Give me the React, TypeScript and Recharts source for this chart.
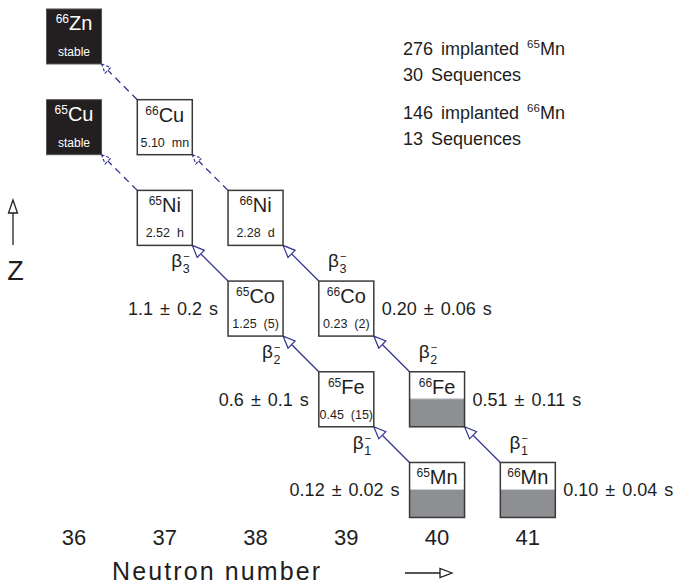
import React from "react";
import { ScatterChart, Scatter, XAxis, YAxis, ReferenceLine } from "recharts";

const FONT = "'Liberation Sans', Arial, sans-serif";
const INK = "#1e1e1e";
const ARROW = "#34358f";
const EDGE = "#3a3a3a";
const GREY = "#8e8f93";

const W = 673;
const H = 585;
const X_DOMAIN = [35.5, 41.5];
const Y_DOMAIN = [24.4, 30.4];
const MARGIN = { top: 0.2, right: 99.8, bottom: 0, left: 28.65 };
const X_AXIS_H = 40.6;
const BOX = 55;
// half box in data units (plot is ~90.7 px per nucleon)
const HALF = BOX / 2 / 90.7;

const neutronTicks = [36, 37, 38, 39, 40, 41];

const stableNuclei = [
  { a: 66, el: "Zn", n: 36, z: 30 },
  { a: 65, el: "Cu", n: 36, z: 29 },
];

const knownNuclei = [
  { a: 66, el: "Cu", n: 37, z: 29, t: "5.10  mn" },
  { a: 65, el: "Ni", n: 37, z: 28, t: "2.52  h" },
  { a: 66, el: "Ni", n: 38, z: 28, t: "2.28  d" },
  { a: 65, el: "Co", n: 38, z: 27, t: "1.25  (5)" },
  { a: 66, el: "Co", n: 39, z: 27, t: "0.23  (2)" },
  { a: 65, el: "Fe", n: 39, z: 26, t: "0.45  (15)" },
];

const newNuclei = [
  { a: 66, el: "Fe", n: 40, z: 26 },
  { a: 65, el: "Mn", n: 40, z: 25 },
  { a: 66, el: "Mn", n: 41, z: 25 },
];

const measuredHalfLives = [
  { a: 65, n: 38, z: 27, t: "1.1 ± 0.2 s" },
  { a: 65, n: 39, z: 26, t: "0.6 ± 0.1 s" },
  { a: 65, n: 40, z: 25, t: "0.12 ± 0.02 s" },
  { a: 66, n: 39, z: 27, t: "0.20 ± 0.06 s" },
  { a: 66, n: 40, z: 26, t: "0.51 ± 0.11 s" },
  { a: 66, n: 41, z: 25, t: "0.10 ± 0.04 s" },
];

// parent (n, z) -> daughter (n - 1, z + 1); step 0 = known decay (dashed)
const decays = [
  { a: 65, n: 40, z: 25, step: 1 },
  { a: 65, n: 39, z: 26, step: 2 },
  { a: 65, n: 38, z: 27, step: 3 },
  { a: 65, n: 37, z: 28, step: 0 },
  { a: 66, n: 41, z: 25, step: 1 },
  { a: 66, n: 40, z: 26, step: 2 },
  { a: 66, n: 39, z: 27, step: 3 },
  { a: 66, n: 38, z: 28, step: 0 },
  { a: 66, n: 37, z: 29, step: 0 },
];

const implantStats = [
  { count: 276, a: 65, el: "Mn", seq: 30 },
  { count: 146, a: 66, el: "Mn", seq: 13 },
];

const txt = { fontFamily: FONT, fill: INK, whiteSpace: "pre" } as React.CSSProperties;

function NuclideLabel({ cx, cy, a, el, color }: any) {
  return (
    <text x={cx} y={cy - 5.5} textAnchor="middle" style={{ ...txt, fill: color }}>
      <tspan fontSize={12} baselineShift="7">{a}</tspan>
      <tspan fontSize={20}>{el}</tspan>
    </text>
  );
}

function StableBox(props: any) {
  const { cx, cy, payload } = props;
  return (
    <g>
      <rect x={cx - BOX / 2} y={cy - BOX / 2} width={BOX} height={BOX} fill="#231f20" stroke="#555" strokeWidth={1} />
      <NuclideLabel cx={cx} cy={cy - 1} a={payload.a} el={payload.el} color="#fff" />
      <text x={cx} y={cy + 19.5} textAnchor="middle" fontSize={12} style={{ ...txt, fill: "#fff" }}>
        stable
      </text>
    </g>
  );
}

function KnownBox(props: any) {
  const { cx, cy, payload } = props;
  return (
    <g>
      <rect x={cx - BOX / 2} y={cy - BOX / 2} width={BOX} height={BOX} fill="#fff" stroke={EDGE} strokeWidth={1.5} />
      <NuclideLabel cx={cx} cy={cy} a={payload.a} el={payload.el} color={INK} />
      <text x={cx} y={cy + 19.5} textAnchor="middle" fontSize={12.5} style={txt}>
        {payload.t}
      </text>
    </g>
  );
}

function NewBox(props: any) {
  const { cx, cy, payload } = props;
  const top = cy - BOX / 2;
  return (
    <g>
      <rect x={cx - BOX / 2} y={top} width={BOX} height={BOX} fill="#fff" />
      <rect x={cx - BOX / 2} y={top + 27} width={BOX} height={BOX - 27} fill={GREY} />
      <line x1={cx - BOX / 2} x2={cx + BOX / 2} y1={top + 27} y2={top + 27} stroke="#cfd0d4" strokeWidth={1} />
      <rect x={cx - BOX / 2} y={top} width={BOX} height={BOX} fill="none" stroke={EDGE} strokeWidth={1.5} />
      <NuclideLabel cx={cx} cy={cy} a={payload.a} el={payload.el} color={INK} />
    </g>
  );
}

function HalfLifeLabel(props: any) {
  const { cx, cy, payload } = props;
  const left = payload.a === 65;
  return (
    <text
      x={left ? cx - BOX / 2 - 10 : cx + BOX / 2 + 8}
      y={cy + 6.5}
      textAnchor={left ? "end" : "start"}
      fontSize={18}
      wordSpacing={2}
      style={txt}
    >
      {payload.t}
    </text>
  );
}

function DecayArrow({ x1, y1, x2, y2, decay }: any) {
  const dx = x2 - x1;
  const dy = y2 - y1;
  const len = Math.hypot(dx, dy) || 1;
  const ux = dx / len;
  const uy = dy / len;
  const dashed = decay.step === 0;
  const hl = dashed ? 9 : 12;
  const hw = dashed ? 4 : 5;
  const bx = x2 - ux * hl;
  const by = y2 - uy * hl;
  const head = `${x2},${y2} ${bx - uy * hw},${by + ux * hw} ${bx + uy * hw},${by - ux * hw}`;
  const mx = (x1 + x2) / 2;
  const my = (y1 + y2) / 2;
  const sx = decay.a === 65 ? mx - 39 : mx + 27;
  return (
    <g>
      <line
        x1={x1}
        y1={y1}
        x2={bx}
        y2={by}
        stroke={ARROW}
        strokeWidth={1.3}
        strokeDasharray={dashed ? "7 5" : undefined}
      />
      <polygon
        points={head}
        fill={dashed ? "none" : "#fff"}
        stroke={ARROW}
        strokeWidth={1.2}
        strokeDasharray={dashed ? "3 2" : undefined}
      />
      {!dashed && (
        <text style={txt}>
          <tspan x={sx} y={my + 4} fontSize={19}>β</tspan>
          <tspan x={sx + 11.5} y={my + 10} fontSize={12.5}>{decay.step}</tspan>
          <tspan x={sx + 12} y={my - 3} fontSize={11}>−</tspan>
        </text>
      )}
    </g>
  );
}

function NeutronTick({ x, y, payload }: any) {
  return (
    <text x={x} y={y + 1} textAnchor="middle" fontSize={22} style={txt}>
      {payload.value}
    </text>
  );
}

export default function App() {
  return (
    <div style={{ position: "absolute", left: 0, top: 0, width: W, height: H, background: "#fff" }}>
      <ScatterChart width={W} height={H} margin={MARGIN}>
        <XAxis
          type="number"
          dataKey="n"
          domain={X_DOMAIN}
          ticks={neutronTicks}
          axisLine={false}
          tickLine={false}
          tickSize={0}
          tickMargin={0}
          height={X_AXIS_H}
          tick={<NeutronTick />}
        />
        <YAxis type="number" dataKey="z" domain={Y_DOMAIN} hide />
        {decays.map((d, i) => (
          <ReferenceLine
            key={i}
            segment={[
              { x: d.n - HALF, y: d.z + HALF },
              { x: d.n - 1 + HALF, y: d.z + 1 - HALF },
            ]}
            ifOverflow="visible"
            shape={(p: any) => <DecayArrow {...p} decay={d} />}
          />
        ))}
        <Scatter data={stableNuclei} shape={<StableBox />} isAnimationActive={false} />
        <Scatter data={knownNuclei} shape={<KnownBox />} isAnimationActive={false} />
        <Scatter data={newNuclei} shape={<NewBox />} isAnimationActive={false} />
        <Scatter data={measuredHalfLives} shape={<HalfLifeLabel />} isAnimationActive={false} />
      </ScatterChart>
      <svg width={W} height={H} style={{ position: "absolute", left: 0, top: 0, pointerEvents: "none" }}>
        {implantStats.map((s, i) => (
          <g key={i}>
            <text x={403} y={55 + i * 64} fontSize={18} wordSpacing={3} style={txt}>
              {`${s.count} implanted `}
              <tspan fontSize={11.5} dy={-7}>{s.a}</tspan>
              <tspan fontSize={18} dy={7}>{s.el}</tspan>
            </text>
            <text x={403} y={81 + i * 64} fontSize={18} wordSpacing={3} style={txt}>
              {`${s.seq} Sequences`}
            </text>
          </g>
        ))}
        <line x1={13} y1={213} x2={13} y2={245} stroke={INK} strokeWidth={1.3} />
        <polygon points="13,200 8.5,213 17.5,213" fill="#fff" stroke={INK} strokeWidth={1.3} />
        <text x={15.5} y={280} textAnchor="middle" fontSize={27} style={txt}>
          Z
        </text>
        <text x={112} y={580} fontSize={25} textLength={208} lengthAdjust="spacing" style={txt}>
          Neutron number
        </text>
        <line x1={405} y1={573} x2={440} y2={573} stroke={INK} strokeWidth={1.3} />
        <polygon points="452,573 440,568.5 440,577.5" fill="#fff" stroke={INK} strokeWidth={1.3} />
      </svg>
    </div>
  );
}
